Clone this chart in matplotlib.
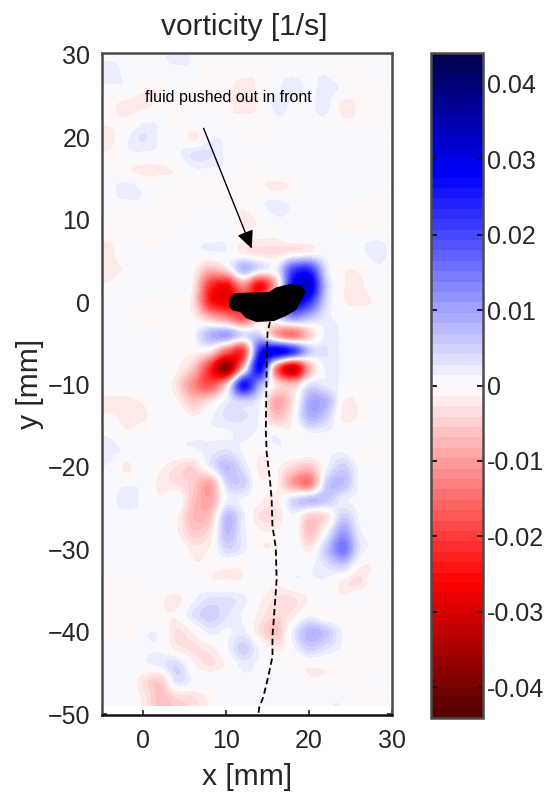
import numpy as np
import matplotlib
matplotlib.use('Agg')
import matplotlib.pyplot as plt
from matplotlib.colors import LinearSegmentedColormap

plt.rcParams['font.family'] = ['Liberation Sans', 'DejaVu Sans']

W, H = 553, 797

x_mm = [-4, -2, 0, 2, 4, 6, 8, 10, 12, 14, 16, 18, 20, 22, 24, 26, 28, 30]
y_mm = list(range(30, -50, -2))

# vorticity, in 1e-3 1/s, one row per y_mm
vort_rows = [
    [ 1,  1,  1,  1,  2,  1, -1, -1, -1,  1,  1,  1,  1, -1, -1, -1,  1,  1],
    [ 2,  1,  1,  1,  1,  1, -1, -1, -1, -1,  1,  1,  1,  1, -1, -1,  1,  1],
    [ 1,  1, -1, -1,  1, -1, -1, -1, -2, -1,  1,  2,  1,  2,  1, -1, -1,  1],
    [-1, -2, -2, -1, -1, -1, -1, -1, -2, -1,  2,  1,  1,  2, -2, -1, -1,  1],
    [-1, -1,  1,  1, -1,  1,  1, -1, -1, -1,  1,  1,  1,  1, -1, -1, -1,  1],
    [-2,  1,  3,  1,  1, -2,  1,  1, -1, -1,  1,  1,  1,  1,  1,  1,  1, -1],
    [-1,  1,  1,  1,  1,  3,  3,  1,  1,  1,  1,  1,  1,  1,  1,  1,  1,  1],
    [ 1, -1, -2, -2, -1,  1,  1,  1, -1, -1,  1,  1,  1,  1,  1,  1,  1,  1],
    [ 1,  2,  1,  1, -1, -1, -1, -1, -1, -1, -2, -1,  1,  1,  1,  1,  1, -1],
    [ 1,  1,  1, -1, -1, -1, -1, -1, -1,  1,  2,  1,  1,  1,  1, -1, -1, -1],
    [-1, -1, -1, -1, -1,  1,  1,  1, -2, -1,  1,  1,  1,  1, -1, -1, -1, -1],
    [-1, -1, -1, -1,  1,  1,  1,  1, -1, -1, -1,  1,  1,  1,  1,  1,  1,  1],
    [-2,  1,  1,  1,  1,  1,  1,  1, -2, -3, -3, -2, -1,  1,  1,  1,  2,  1],
    [-2, -1,  1,  1,  1, -1, -7, -3,  8,  3,  2, 20, 22,  3, -1, -1,  1,  1],
    [-1,  1,  1,  1,  1, -2, -21, -26, -12, -26, -6, 28, 32,  6, -1, -2,  1,  1],
    [ 1,  1, -1, -1, -1, -3, -23, -27, -22, -15,  8, 28, 22,  4, -1, -2, -1,  1],
    [ 1, -1, -1, -1, -1, -1, -6, -11, -16, -4,  3, 10,  6,  2,  1,  1,  1,  1],
    [ 1,  1,  1,  1, -1,  1,  8, 10,  4,  5, -9, -14, -5,  2,  1,  1,  1,  1],
    [ 1,  1,  1, -1, -1, -1, -3, -16, -20, 24, 30, 22,  6,  3,  1,  1,  1,  1],
    [ 1,  1,  1,  1, -1, -6, -22, -38, -6, 28, -14, -32, -8,  2,  1,  1,  1,  1],
    [ 1,  1,  1,  1, -3, -12, -18, -5, 26, 10, -3, -6,  3,  2,  1, -1, -1,  1],
    [-2, -2, -1,  1, -1, -6, -3,  2,  5,  2, -9, -3,  9,  8, -1, -1,  1,  1],
    [-1, -2, -2,  1,  1, -1,  1,  3,  3,  1, -6, -1,  8,  5, -2, -1,  1,  1],
    [ 1, -1,  1,  1,  1,  1,  1,  1,  2,  1,  1, -1,  1,  1,  1,  1,  1,  1],
    [ 2,  1,  1,  1,  1,  1,  2,  3,  1, -1,  1,  1,  1,  1,  1, -1, -1, -1],
    [ 1, -2,  1, -1, -3, -4,  2,  7,  3, -2, -1, -4, -6,  1,  5,  1,  1,  1],
    [ 1,  1,  1, -2, -3, -5, -9,  4,  5, -1, -1, -10, -13,  5,  7,  1,  1,  1],
    [ 1,  2,  1, -1,  1, -6, -9,  1,  1, -1, -2,  4,  7,  6,  2,  1,  1,  1],
    [ 1,  1,  1,  1, -1, -7, -6,  7,  2, -3, -3,  1, -5, -3,  5,  1,  1,  1],
    [ 1,  1,  1,  1, -1, -5, -3,  7,  2, -1, -1,  1, -6,  1, 11,  2,  1,  1],
    [ 1,  1,  1,  1,  1, -2, -1,  4,  2, -1, -1,  1, -2,  6, 15,  3,  1,  1],
    [ 1,  1,  1,  1,  1, -1, -1, -1, -1,  1,  1,  1,  1,  3,  5, -1, -1,  1],
    [-1, -1,  1,  1,  1,  1, -1, -1, -1,  1, -1,  1,  1,  1, -2, -3,  1,  1],
    [-1, -1, -1, -1, -2,  1,  3,  3,  2, -1, -3, -3, -1,  1, -1,  1, -1, -1],
    [-1, -1, -1, -1, -1,  3,  5,  3,  1, -2, -4, -2,  1, -1, -1, -1, -1, -1],
    [-1, -1,  1,  1, -3, -1,  2,  1,  2, -3, -6,  2,  8,  6,  1, -1, -1, -1],
    [ 1,  1,  1,  1, -2, -3, -2,  1,  5,  1, -2,  1,  5,  3,  1, -1, -1, -1],
    [ 1,  1,  1,  2,  4, -1, -3, -1,  2,  1,  1, -1, -1, -1, -1, -1, -1, -1],
    [ 1,  1, -3, -5,  3,  1,  1,  1,  1,  1,  1,  1, -1, -1, -1, -1,  1,  1],
    [ 1,  1, -2, -6, -4, -3, -1,  1,  1,  1,  1,  1,  1,  1,  1, -1, -1, -1],
]

# outline of the animal
body_x = [10.6, 10.8, 11.2, 15.3, 16.1, 17.7, 18.9, 19.3, 18.9, 18.3, 17.1, 15.7, 13.7, 12.5, 11.9, 10.9, 10.6]
body_y = [0.1, 0.6, 0.85, 1.0, 1.55, 1.95, 1.75, 1.2, 0.47, -0.74, -1.45, -2.05, -2.15, -1.7, -1.0, -0.75, -0.35]

# dashed trajectory
path_x = [15.3, 15.0, 14.9, 14.8, 14.9, 15.3, 15.5, 15.6, 16.0, 16.1, 15.9, 15.6, 15.6, 15.1, 14.5, 14.0, 13.9]
path_y = [-2.4, -3.7, -7.4, -15.5, -18.3, -21.6, -24.0, -27.2, -29.8, -33.7, -36.5, -40.6, -43.0, -45.4, -47.9, -49.2, -50.0]

xticks = [0, 10, 20, 30]
yticks = [30, 20, 10, 0, -10, -20, -30, -40, -50]
cticks = [0.04, 0.03, 0.02, 0.01, 0, -0.01, -0.02, -0.03, -0.04]
clabels = ['0.04', '0.03', '0.02', '0.01', '0', '-0.01', '-0.02', '-0.03', '-0.04']

vmax = 0.0441
vort = np.array(vort_rows) * 1e-3

# 64 level map, dark red - red - white - blue - navy
stops = [(0.0, '#560000'), (0.20, '#ff0000'), (0.5, '#ffffff'), (0.82, '#0000ff'), (1.0, '#00004f')]
cmap = LinearSegmentedColormap.from_list('vort', stops, N=64)

ink = '#262626'
fig = plt.figure(figsize=(W / 100, H / 100), dpi=100, facecolor='white')

ax = fig.add_axes([101.5 / W, 1 - 715 / H, 290.5 / W, 662 / H])
# catrom passes through the grid values, bicubic in agg smooths them away
im = ax.imshow(vort, extent=(-5, 31, -49, 31), cmap=cmap, vmin=-vmax, vmax=vmax,
               interpolation='catrom', interpolation_stage='data', aspect='auto', zorder=1)
ax.set_xlim(-5, 30)
ax.set_ylim(-50.1, 30.24)
ax.set_axisbelow(True)
ax.set_xticks(xticks)
ax.set_yticks(yticks)
ax.tick_params(direction='in', length=3.6, width=1.2, color='#222222', labelsize=18,
               labelcolor=ink, top=True, right=True, pad=8)
ax.tick_params(axis='x', pad=10)
for s in ax.spines.values():
    s.set_linewidth(1.8)
    s.set_color('#4a4a4a')
ax.spines['bottom'].set_color('#111111')

ax.plot(path_x, path_y, color='k', lw=1.3, ls=(0, (3.5, 2)), zorder=3, clip_on=False)
ax.fill(body_x, body_y, color='k', lw=3, joinstyle='round', zorder=4)

ax.annotate('', xy=(13.1, 6.5), xytext=(7.3, 21.1),
            arrowprops=dict(arrowstyle='-|>,head_length=1.08,head_width=0.5', color='k', lw=1,
                            mutation_scale=10, shrinkA=0, shrinkB=0), zorder=5)
ax.text(0.2, 24.9, 'fluid pushed out in front', fontsize=11.5, color='k', va='center', zorder=5)

ax.set_title('vorticity [1/s]', fontsize=21.6, color=ink, pad=13, x=0.49)
ax.set_xlabel('x [mm]', fontsize=21.6, color=ink, labelpad=7)
ax.set_ylabel('y [mm]', fontsize=21.6, color=ink, labelpad=3)

cax = fig.add_axes([431 / W, 1 - 718 / H, 52 / W, 665 / H])
cb = fig.colorbar(im, cax=cax)
cb.set_ticks(cticks)
cb.set_ticklabels(clabels)
cax.tick_params(direction='in', length=4, width=1.3, color='#111111', left=True, right=True,
                labelsize=18, labelcolor=ink, pad=3)
cb.outline.set_linewidth(1.8)
cb.outline.set_edgecolor('#4a4a4a')

fig.savefig('out.png', dpi=100, facecolor='white')
